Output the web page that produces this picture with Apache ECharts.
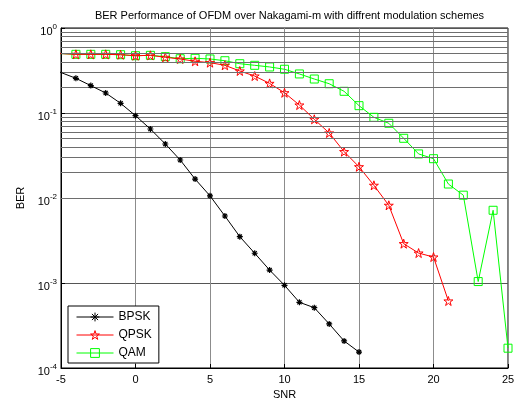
<!DOCTYPE html>
<html>
<head>
<meta charset="utf-8">
<script src="https://cdn.jsdelivr.net/npm/echarts@6/dist/echarts.min.js"></script>
<style>html,body{margin:0;padding:0;background:#fff}#c{width:516px;height:401px}</style>
</head>
<body>
<div id="c"></div>
<script>
// SNR values (dB); the first point lies left of the visible x range (line enters from the edge)
const snr = [-6,-4,-3,-2,-1,0,1,2,3,4,5,6,7,8,9,10,11,12,13,14,15,16,17,18,19,20,21,22,23,24,25];
const bpsk = [0.35,0.256,0.210,0.172,0.130,0.093,0.0648,0.0432,0.028,0.0167,0.0106,0.00614,0.00351,0.00224,0.00142,0.00094,0.000593,0.000512,0.00033,0.000208,0.000154];
const qpsk = [0.51,0.49,0.49,0.49,0.485,0.472,0.477,0.452,0.432,0.406,0.391,0.364,0.312,0.272,0.223,0.173,0.124,0.0843,0.0582,0.0351,0.0233,0.0141,0.0082,0.0029,0.00225,0.00202,0.000614];
const qam = [0.51,0.49,0.49,0.49,0.485,0.472,0.477,0.46,0.435,0.44,0.432,0.412,0.38,0.364,0.348,0.327,0.288,0.251,0.221,0.18,0.122,0.089,0.0757,0.0504,0.033,0.029,0.0146,0.0108,0.00104,0.00717,0.000171];
const xTicks = [-5,0,5,10,15,20,25];
const seriesNames = ['BPSK','QPSK','QAM'];
const minorMantissas = [2,3,4,5,6,7,8,9];
const decades = [-4,-3,-2,-1];

const pair = (vals) => vals.map((v,i) => [snr[i], v]);
const minorLines = [];
decades.forEach(d => minorMantissas.forEach(m => minorLines.push({yAxis: m * Math.pow(10, d)})));

const asterisk = 'path://M5,0L5,10M0,5L10,5M1.5,1.5L8.5,8.5M1.5,8.5L8.5,1.5';
const pentagram = 'path://M0,-10L2.245,-3.09L9.51,-3.09L3.63,1.18L5.88,8.09L0,3.82L-5.88,8.09L-3.63,1.18L-9.51,-3.09L-2.245,-3.09Z';

const chart = echarts.init(document.getElementById('c'), null, {renderer:'canvas'});
const FONT = 'Liberation Sans, Arial, sans-serif';
chart.setOption({
  animation: false,
  backgroundColor: '#fff',
  textStyle: {fontFamily: FONT},
  title: {
    text: 'BER Performance of OFDM over Nakagami-m with diffrent modulation schemes',
    left: 284.5, textAlign: 'center', top: 5,
    textStyle: {fontSize: 11, fontWeight: 'normal', color: '#000', fontFamily: FONT}
  },
  grid: {left: 61, right: 8, top: 28, bottom: 33, outerBoundsMode: 'none', containLabel: false,
    show: true, borderColor: '#000', borderWidth: 1, backgroundColor: 'transparent'},
  legend: {
    orient: 'vertical', left: 68, top: 306,
    data: seriesNames,
    itemWidth: 37, itemHeight: 11, itemGap: 4,
    padding: [4, 7, 3, 8],
    backgroundColor: '#fff', borderColor: '#000', borderWidth: 1,
    itemStyle: {borderWidth: 1},
    lineStyle: {width: 1},
    textStyle: {fontSize: 12, color: '#000', fontFamily: FONT, lineHeight: 14}
  },
  xAxis: {
    type: 'value', min: -5, max: 25, interval: 5,
    name: 'SNR', nameLocation: 'middle', nameGap: 20,
    nameTextStyle: {fontSize: 11, color: '#000', fontFamily: FONT},
    axisLine: {show: true, onZero: false, lineStyle: {color: '#000', width: 1}},
    axisTick: {show: true, inside: true, length: 4, lineStyle: {color: '#000'}},
    axisLabel: {fontSize: 11, color: '#000', margin: 6, fontFamily: FONT},
    splitLine: {show: true, lineStyle: {color: '#8c8c8c', width: 1}}
  },
  yAxis: {
    type: 'log', logBase: 10, min: 0.0001, max: 1,
    name: 'BER', nameLocation: 'middle', nameGap: 28,
    nameTextStyle: {fontSize: 11, color: '#000', fontFamily: FONT},
    axisLine: {show: true, onZero: false, lineStyle: {color: '#000', width: 1}},
    axisTick: {show: true, inside: true, length: 4, lineStyle: {color: '#000'}},
    axisLabel: {
      margin: 4, color: '#000',
      formatter: v => '{a|10}{b|' + Math.round(Math.log10(v)) + '}',
      rich: {
        a: {fontSize: 11, color: '#000', fontFamily: FONT, padding: [8, 0, 0, 0]},
        b: {fontSize: 8, color: '#000', fontFamily: FONT, padding: [0, 0, 3, 0]}
      }
    },
    splitLine: {show: true, lineStyle: {color: '#555', width: 1}}
  },
  series: [
    {
      name: '__minor', type: 'line', data: [], silent: true,
      markLine: {silent: true, symbol: 'none', label: {show: false},
        lineStyle: {color: '#6e6e6e', width: 1, type: 'solid'}, data: minorLines, animation: false}
    },
    {
      name: 'BPSK', type: 'line', data: pair(bpsk), clip: true, showAllSymbol: true,
      symbol: asterisk, symbolSize: 6,
      lineStyle: {color: '#000', width: 1},
      itemStyle: {color: '#000', borderColor: '#000', borderWidth: 1.2},
      z: 5
    },
    {
      name: 'QPSK', type: 'line', data: pair(qpsk), clip: true, showAllSymbol: true,
      symbol: pentagram, symbolSize: 9,
      lineStyle: {color: '#ff0000', width: 1},
      itemStyle: {color: 'rgba(0,0,0,0)', borderColor: '#ff0000', borderWidth: 1},
      z: 4
    },
    {
      name: 'QAM', type: 'line', data: pair(qam), clip: true, showAllSymbol: true,
      symbol: 'rect', symbolSize: 8,
      lineStyle: {color: '#00ff00', width: 1},
      itemStyle: {color: 'rgba(0,0,0,0)', borderColor: '#00ff00', borderWidth: 1},
      z: 3
    }
  ]
});
</script>
</body>
</html>
